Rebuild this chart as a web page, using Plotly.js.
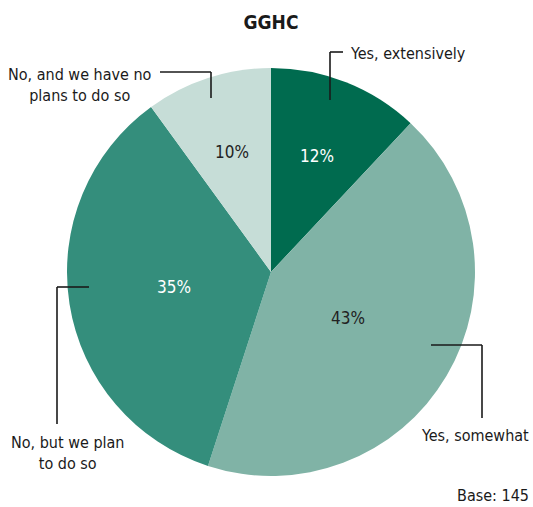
<!DOCTYPE html>
<html>
<head>
<meta charset="utf-8">
<script src="https://cdn.plot.ly/plotly-3.0.1.min.js"></script>
<style>html,body{margin:0;padding:0;background:#fff;}#chart{width:533px;height:507px;}</style>
</head>
<body>
<div id="chart"></div>
<script>
const categories = ["Yes, extensively", "Yes, somewhat", "No, but we plan to do so", "No, and we have no plans to do so"];
const values = [12, 43, 35, 10];
const sliceColors = ["#006B4F", "#80B3A6", "#348E7C", "#C6DDD7"];
const textColors = ["#ffffff", "#222222", "#ffffff", "#222222"];
const displayLabels = ["Yes, extensively", "Yes, somewhat", "No, but we plan<br>to do so", "No, and we have no<br>plans to do so"];
const baseNote = "Base: 145";
const chartTitle = "GGHC";

const W = 533, H = 507;
const FONT = "'Liberation Sans Narrow', 'DejaVu Sans Condensed', Arial, sans-serif";
const px = x => x / W;
const py = y => 1 - y / H;

const cx = 271, cy = 272, r = 204;
// radial position of each percentage label, as a fraction of the radius
const labelRadius = [0.61, 0.44, 0.48, 0.62];

const trace = {
  type: "pie",
  labels: categories,
  values: values,
  sort: false,
  direction: "clockwise",
  rotation: 0,
  marker: {colors: sliceColors, line: {width: 0}},
  textinfo: "none",
  hoverinfo: "none",
  showlegend: false,
  domain: {x: [px(cx - r), px(cx + r)], y: [py(cy + r), py(cy - r)]}
};

const lineStyle = {color: "#1a1a1a", width: 1.6};
function seg(x0, y0, x1, y1) {
  return {type: "line", xref: "paper", yref: "paper", x0: px(x0), y0: py(y0), x1: px(x1), y1: py(y1), line: lineStyle};
}
const shapes = [
  seg(330, 100, 330, 52), seg(330, 52, 343, 52),
  seg(160, 72, 211, 72), seg(211, 72, 211, 98),
  seg(89, 287, 57, 287), seg(57, 287, 57, 424),
  seg(431, 345, 482, 345), seg(482, 345, 482, 418)
];

function ann(text, x, y, xanchor, align, size, color) {
  return {text: text, xref: "paper", yref: "paper", x: px(x), y: py(y), xanchor: xanchor, yanchor: "middle",
    align: align || "center", showarrow: false, font: {family: FONT, size: size || 16, color: color || "#1a1a1a"}};
}
const annotations = [
  ann(displayLabels[0], 348, 54, "left", "left"),
  ann(displayLabels[1], 475, 435, "center"),
  ann(displayLabels[2], 67, 453, "center"),
  ann(displayLabels[3], 80, 85, "center"),
  ann(baseNote, 531, 495, "right", "right")
];

// percentage labels at each slice's mid-angle
const total = values.reduce((a, b) => a + b, 0);
let cum = 0;
values.forEach((v, i) => {
  const mid = (cum + v / 2) / total * 2 * Math.PI;
  cum += v;
  const lx = cx + labelRadius[i] * r * Math.sin(mid);
  const ly = cy - labelRadius[i] * r * Math.cos(mid);
  annotations.push(ann(v + "%", lx, ly, "center", "center", 17, textColors[i]));
});

const layout = {
  width: W, height: H,
  margin: {l: 0, r: 0, t: 0, b: 0},
  paper_bgcolor: "#ffffff",
  title: {text: "<b>" + chartTitle + "</b>", x: px(271), xanchor: "center", y: py(22), yanchor: "middle",
    font: {family: FONT, size: 19, color: "#1a1a1a"}},
  shapes: shapes,
  annotations: annotations
};

Plotly.newPlot("chart", [trace], layout, {displayModeBar: false, staticPlot: true});
</script>
</body>
</html>
